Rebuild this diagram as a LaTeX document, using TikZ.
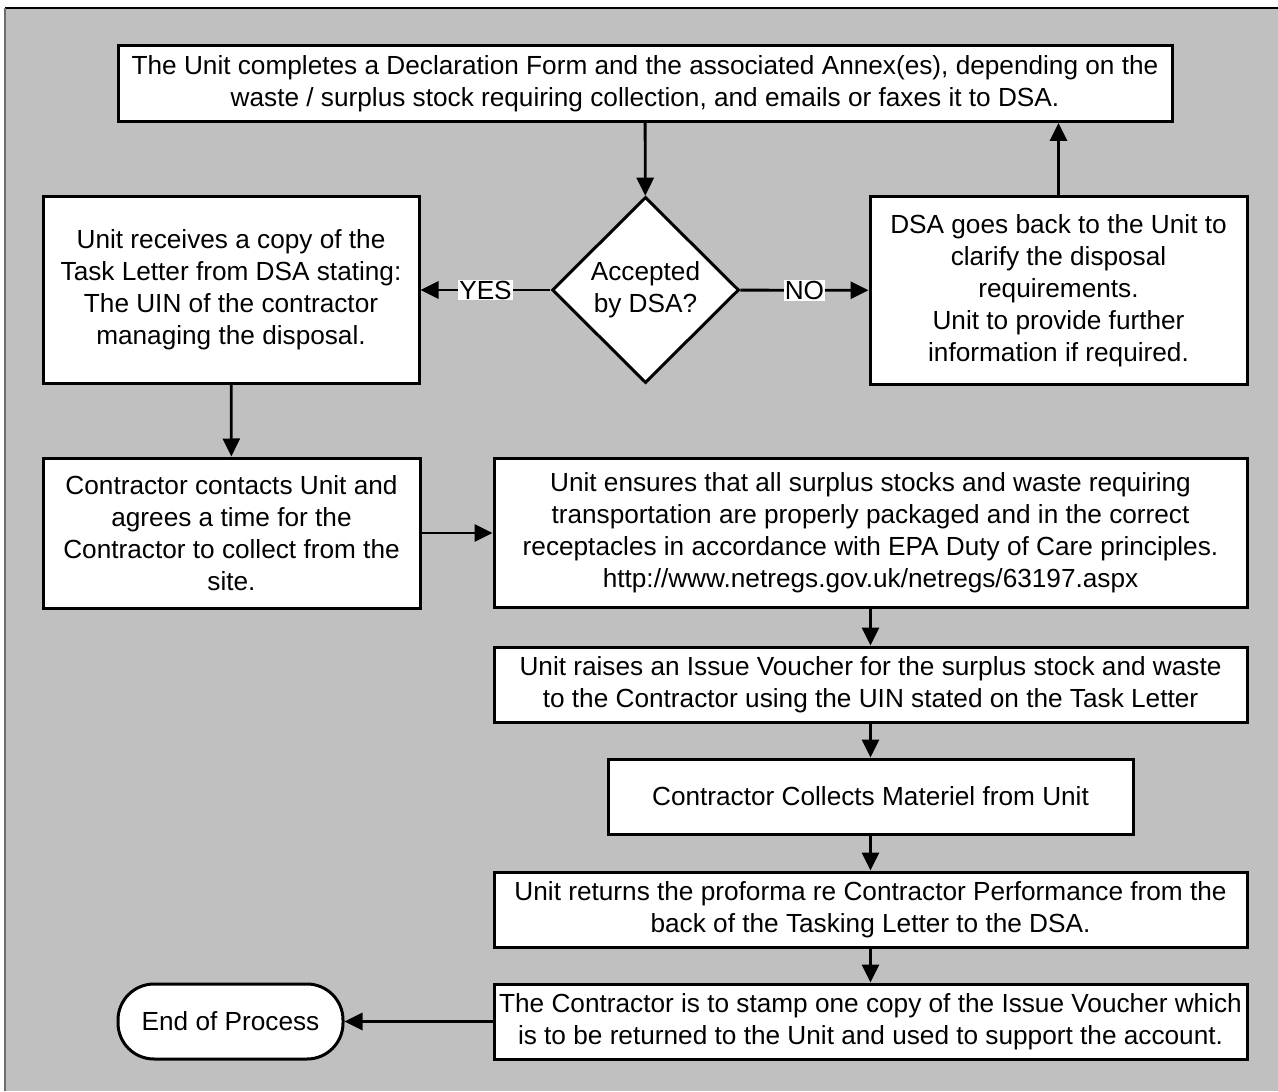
\documentclass[tikz,border=0pt]{standalone}
\usepackage{fontspec}
\setmainfont{Liberation Sans}
\usetikzlibrary{shapes.geometric,arrows.meta}
\definecolor{pagegray}{HTML}{C0C0C0}
\definecolor{framegray}{HTML}{6E6E6E}
\tikzset{
  stepbox/.style={draw,line width=1.5pt,fill=white,align=center,inner xsep=1pt,inner ysep=2pt},
  decision/.style={diamond,aspect=1,draw,line width=1.5pt,fill=white,align=center,
    inner sep=0pt,minimum width=93.5pt,minimum height=93pt},
  endbox/.style={draw,line width=1.5pt,fill=white,rounded corners=18pt,
    minimum width=112.5pt,minimum height=37.5pt},
  flow/.style={line width=1.4pt,-{Triangle[length=9pt,width=8.5pt]}},
  answer/.style={fill=white,inner sep=0.6pt}
}
\begin{document}
\begin{tikzpicture}[x=0.5pt,y=-0.5pt,font=\fontsize{13.1}{16}\selectfont]
    \useasboundingbox (0,0) rectangle (1278,1091);
    % backdrop
    \fill[pagegray] (5,8) rectangle (1278,1091);
    \draw[black,line width=0.8pt] (5,8) -- (1278,8);
    \draw[framegray,line width=1.2pt] (5,8) -- (5,1091);

    % top row
    \node[stepbox,minimum width=527pt,minimum height=38pt] (declare) at (645,83.5)
        {The Unit completes a Declaration Form and the associated Annex(es), depending on the\\
         waste / surplus stock requiring collection, and emails or faxes it to DSA.};
    \node[decision] (accept) at (645.5,290) {Accepted\\by DSA?};
    \node[stepbox,minimum width=188pt,minimum height=93pt] (letter) at (231,290)
        {Unit receives a copy of the\\Task Letter from DSA stating:\\
         The UIN of the contractor\\managing the disposal.};
    \node[stepbox,minimum width=188.5pt,minimum height=93.5pt] (clarify) at (1058.5,290.5)
        {DSA goes back to the Unit to\\clarify the disposal\\requirements.\\
         Unit to provide further\\information if required.};

    % middle
    \node[stepbox,minimum width=188.5pt,minimum height=75pt] (contact) at (231.5,533)
        {Contractor contacts Unit and\\agrees a time for the\\
         Contractor to collect from the\\site.};
    \node[stepbox,minimum width=376.5pt,minimum height=74.5pt] (package) at (870.5,533)
        {Unit ensures that all surplus stocks and waste requiring\\
         transportation are properly packaged and in the correct\\
         receptacles in accordance with EPA Duty of Care principles.\\
         http://www.netregs.gov.uk/netregs/63197.aspx};

    % right column
    \node[stepbox,minimum width=376.5pt,minimum height=37.5pt] (voucher) at (870.5,684.5)
        {Unit raises an Issue Voucher for the surplus stock and waste\\
         to the Contractor using the UIN stated on the Task Letter};
    \node[stepbox,minimum width=262.5pt,minimum height=37.5pt] (collect) at (870.5,796.5)
        {Contractor Collects Materiel from Unit};
    \node[stepbox,minimum width=376.5pt,minimum height=37.5pt] (proforma) at (870.5,909.5)
        {Unit returns the proforma re Contractor Performance from the\\
         back of the Tasking Letter to the DSA.};
    \node[stepbox,minimum width=376.5pt,minimum height=37.5pt] (stamp) at (870.5,1021.5)
        {The Contractor is to stamp one copy of the Issue Voucher which\\
         is to be returned to the Unit and used to support the account.};
    \node[endbox] (finish) at (230.5,1021.5) {End of Process};

    % connectors
    \draw[flow] (declare) -- (accept);
    \draw[flow] (accept) -- node[answer] {YES} (letter);
    \draw[flow] (accept) -- node[answer] {NO} (clarify);
    \draw[flow] (clarify) -- (clarify |- declare.south);
    \draw[flow] (letter) -- (contact);
    \draw[flow] (contact) -- (package);
    \draw[flow] (package) -- (voucher);
    \draw[flow] (voucher) -- (collect);
    \draw[flow] (collect) -- (proforma);
    \draw[flow] (proforma) -- (stamp);
    \draw[flow] (stamp) -- (finish);
\end{tikzpicture}
\end{document}
